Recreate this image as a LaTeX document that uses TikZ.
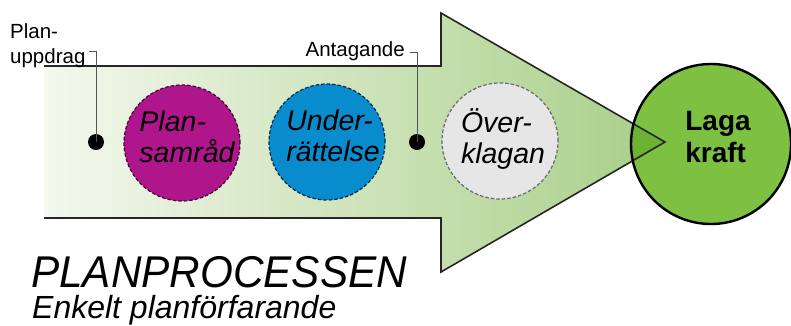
\documentclass[tikz,border=0pt]{standalone}
\usepackage{fontspec}
\setmainfont{Liberation Sans}
\usepackage{graphicx}
\definecolor{magC}{RGB}{176,22,140}
\definecolor{magD}{RGB}{60,10,50}
\definecolor{blueC}{RGB}{8,140,206}
\definecolor{blueD}{RGB}{10,40,80}
\definecolor{grayC}{RGB}{230,230,230}
\definecolor{grayD}{RGB}{105,105,105}
\definecolor{greenC}{RGB}{125,192,66}
\definecolor{overC}{RGB}{108,178,52}
\definecolor{arrL}{RGB}{244,248,238}
\definecolor{arrR}{RGB}{168,207,136}
\definecolor{leadC}{RGB}{85,85,85}
\begin{document}
\begin{tikzpicture}[x=1pt,y=-1pt,
  bubble/.style={circle, minimum size=116pt, inner sep=0pt, line width=1.2pt, dash pattern=on 3.5pt off 2pt},
  ctext/.style={align=left, inner sep=0pt, font=\itshape\fontsize{28.5}{31.5}\selectfont},
  lbltext/.style={inner sep=0pt, font=\fontsize{20.5}{25}\selectfont},
  dotnode/.style={circle, fill=black, inner sep=0pt, minimum size=16pt},
  leader/.style={draw=leadC, line width=0.8pt},
  outline/.style={draw=black!85, line width=1.6pt, line join=miter}
]
\useasboundingbox (0,0) rectangle (791,325);
% arrow fill
\shade[left color=arrL, right color=arrR] (44,66) -- (441,66) -- (441,13) -- (665,142) -- (441,272) -- (441,218) -- (44,218) -- cycle;
% Laga kraft circle fill
\node[circle, minimum size=160pt, inner sep=0pt, fill=greenC] (laga) at (711,144) {};
\begin{scope}
  \clip (711,144) circle (80pt);
  \fill[overC] (44,66) -- (441,66) -- (441,13) -- (665,142) -- (441,272) -- (441,218) -- (44,218) -- cycle;
\end{scope}
% arrow outline
\draw[outline] (44,66) -- (441,66) -- (441,13) -- (665,142) -- (441,272) -- (441,218) -- (44,218);
\draw[draw=black, line width=2.4pt] (laga.center) circle (80pt);
\node[font=\bfseries\fontsize{28}{32}\selectfont, align=left, inner sep=0pt] (lagatext) at (718,137) {Laga\\kraft};
% bubbles
\node[bubble, fill=magC, draw=magD] (samrad) at (182,143) {};
\node[ctext] (samradtext) at (187,137) {Plan-\\samråd};
\node[bubble, fill=blueC, draw=blueD] (under) at (327,142) {};
\node[ctext] (undertext) at (333,136) {Under-\\rättelse};
\node[bubble, fill=grayC, draw=grayD] (over) at (500,141) {};
\node[ctext] (overtext) at (503,139) {Över-\\klagan};
% leaders
\node[dotnode] (d1) at (96,142) {};
\coordinate (t1) at (96,51);
\coordinate (e1) at (89,51);
\draw[leader] (d1.center) -- (t1) -- (e1);
\node[lbltext, anchor=north west, align=left] (lplan) at (10,23) {Plan-\\uppdrag};
\node[dotnode] (d2) at (417,142) {};
\coordinate (t2) at (417,52);
\coordinate (e2) at (410,52);
\draw[leader] (d2.center) -- (t2) -- (e2);
\node[lbltext, anchor=base east] (lant) at (405,56) {Antagande};
% titles
\node[anchor=base west, inner sep=0pt] (title) at (31,287) {\scalebox{0.95}[1]{\itshape\fontsize{44.5}{50}\selectfont PLANPROCESSEN}};
\node[anchor=base west, inner sep=0pt] (sub) at (32,318) {\itshape\fontsize{32}{36}\selectfont Enkelt planförfarande};
\end{tikzpicture}
\end{document}
